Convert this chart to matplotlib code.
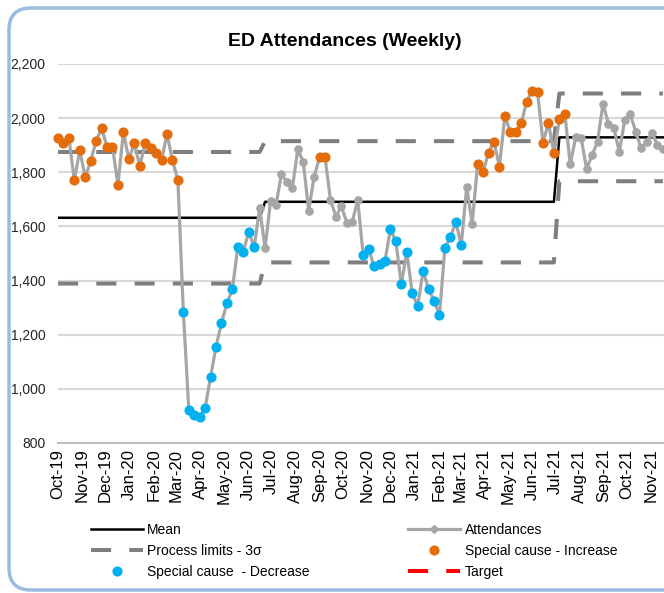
import matplotlib
matplotlib.use("Agg")
import matplotlib.pyplot as plt
import matplotlib.dates as mdates
from matplotlib.patches import FancyBboxPatch
from matplotlib.lines import Line2D
import numpy as np
import pandas as pd

plt.rcParams['font.family'] = ['Liberation Sans', 'DejaVu Sans']

# weekly ED attendances
attendances = [1926, 1907, 1926, 1771, 1882, 1781, 1842, 1917, 1962, 1895,
               1895, 1753, 1950, 1848, 1909, 1823, 1907, 1889, 1870, 1845,
               1941, 1845, 1771, 1285, 922, 903, 897, 929, 1045, 1156,
               1244, 1316, 1368, 1525, 1507, 1580, 1523, 1667, 1521, 1693,
               1680, 1792, 1765, 1741, 1885, 1839, 1658, 1784, 1855, 1855,
               1698, 1636, 1675, 1614, 1617, 1698, 1494, 1517, 1452, 1462,
               1473, 1589, 1545, 1386, 1506, 1355, 1305, 1436, 1368, 1326,
               1273, 1521, 1560, 1617, 1531, 1747, 1609, 1831, 1802, 1872,
               1913, 1821, 2008, 1950, 1950, 1981, 2061, 2102, 2096, 1909,
               1983, 1870, 1996, 2016, 1829, 1930, 1926, 1813, 1863, 1913,
               2053, 1980, 1963, 1876, 1993, 2016, 1950, 1889, 1913, 1945,
               1901, 1885]

# special cause flags: 1 = increase, -1 = decrease, 0 = common cause
special = [1] * 23 + [-1] * 14 + [0] * 11 + [1, 1] + [0] * 6 + [-1] * 19 \
          + [0, 0] + [1] * 17 + [0] * 18

# process phases: first week index of each phase, mean, lower and upper limits
phase_start = [0, 38, 92]
phase_mean = [1632, 1691, 1929]
phase_lower = [1389, 1467, 1767]
phase_upper = [1875, 1915, 2091]

# month ticks visible on the (cropped) axis
month_ticks = pd.date_range('2019-10-01', '2021-11-01', freq='MS')

weeks = pd.date_range('2019-10-01', periods=len(attendances), freq='7D')
att = np.array(attendances, dtype=float)
flags = np.array(special)

bounds = phase_start + [len(att)]
mean_line = np.concatenate([[m] * (bounds[i + 1] - bounds[i]) for i, m in enumerate(phase_mean)])
low_line = np.concatenate([[m] * (bounds[i + 1] - bounds[i]) for i, m in enumerate(phase_lower)])
up_line = np.concatenate([[m] * (bounds[i + 1] - bounds[i]) for i, m in enumerate(phase_upper)])

inc = np.where(flags == 1, att, np.nan)
dec = np.where(flags == -1, att, np.nan)

fig = plt.figure(figsize=(6.64, 5.93), dpi=100)
ax = fig.add_axes([58 / 664, 150 / 593, 710 / 664, 379 / 593])

grey_dash = dict(color='#7f7f7f', lw=2.9, dashes=(5, 4.5), dash_capstyle='butt')
ax.plot(weeks, mean_line, color='black', lw=1.8, zorder=3)
ax.plot(weeks, up_line, zorder=3, **grey_dash)
ax.plot(weeks, low_line, zorder=3, **grey_dash)
ax.plot(weeks, att, color='#a6a6a6', lw=2.3, marker='o', ms=5.2, zorder=4, clip_on=False)
ax.plot(weeks, inc, ls='none', marker='o', ms=6.3, color='#e46c0a', zorder=5, clip_on=False)
ax.plot(weeks, dec, ls='none', marker='o', ms=6.3, color='#00b0f0', zorder=5, clip_on=False)

ax.set_xlim(pd.Timestamp('2019-10-01'), pd.Timestamp('2022-03-31'))
ax.set_ylim(800, 2200)
ax.set_yticks(range(800, 2201, 200))
ax.yaxis.set_major_formatter(matplotlib.ticker.FuncFormatter(lambda v, p: f'{int(v):,}'))
ax.set_xticks(month_ticks)
ax.xaxis.set_major_formatter(mdates.DateFormatter('%b-%y'))
plt.setp(ax.get_xticklabels(), rotation=90, fontsize=12)
ax.tick_params(axis='x', length=0, pad=4)
ax.tick_params(axis='y', length=0, pad=9, labelsize=10, labelcolor='#262626')
ax.yaxis.grid(True, color='#d9d9d9', lw=1.5)
ax.set_axisbelow(True)
for s in ['top', 'left', 'right']:
    ax.spines[s].set_visible(False)
ax.spines['bottom'].set_color('#bfbfbf')
ax.spines['bottom'].set_linewidth(1.5)

fig.text(345 / 664, 1 - 41 / 593, 'ED Attendances (Weekly)', ha='center', va='center',
         fontsize=14, fontweight='bold')

handles = [
    Line2D([], [], color='black', lw=1.8),
    Line2D([], [], **grey_dash),
    Line2D([], [], ls='none', marker='o', ms=6.3, color='#00b0f0'),
    Line2D([], [], color='#a6a6a6', lw=2.3, marker='D', ms=4),
    Line2D([], [], ls='none', marker='o', ms=6.3, color='#e46c0a'),
    Line2D([], [], color='#ff0000', lw=2.9, dashes=(5, 4.5)),
]
labels = ['Mean', 'Process limits - 3σ', 'Special cause  - Decrease',
          'Attendances', 'Special cause - Increase', 'Target']
fig.legend(handles, labels, ncol=2, loc='upper left', bbox_to_anchor=(91 / 664, 1 - 523 / 593),
           frameon=False, fontsize=10, handlelength=3.75, handletextpad=0.3,
           columnspacing=7.1, labelspacing=0.5, borderpad=0, borderaxespad=0)

border = FancyBboxPatch((0.09, 0.03), 7.5, 5.82, boxstyle='round,pad=0,rounding_size=0.22',
                        transform=fig.dpi_scale_trans, fill=False, ec='#9bbbe0', lw=2.5)
fig.patches.append(border)

fig.savefig('out.png', dpi=100)
